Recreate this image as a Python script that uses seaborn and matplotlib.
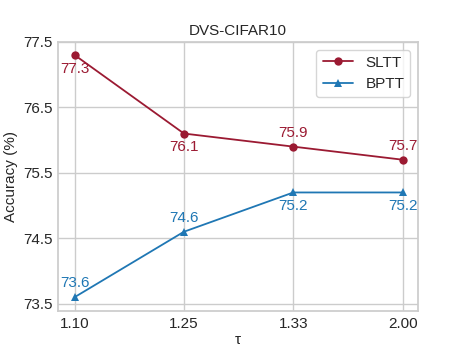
import seaborn as sns
import matplotlib.pyplot as plt
import pandas as pd

# data
taus = ["1.10", "1.25", "1.33", "2.00"]
sltt = [77.3, 76.1, 75.9, 75.7]
bptt = [73.6, 74.6, 75.2, 75.2]
yticks = [73.5, 74.5, 75.5, 76.5, 77.5]

red = "#9b1a32"
blue = "#1f77b4"

sns.set_theme(style="whitegrid")
plt.rcParams["font.family"] = ["Liberation Sans", "DejaVu Sans"]

df = pd.DataFrame({
    "tau": taus * 2,
    "acc": sltt + bptt,
    "method": ["SLTT"] * 4 + ["BPTT"] * 4,
})
df["x"] = list(range(len(taus))) * 2

fig = plt.figure(figsize=(4.65, 3.49), dpi=100)
ax = fig.add_axes([0.125, 0.109, 0.774, 0.771])

sns.lineplot(data=df, x="x", y="acc", hue="method", style="method",
             palette={"SLTT": red, "BPTT": blue},
             markers={"SLTT": "o", "BPTT": "^"}, dashes=False,
             markersize=6, markeredgewidth=0, linewidth=1.3, ax=ax)

# value labels
sltt_off = [-10, -10, 10, 10]
bptt_off = [10, 10, -10, -10]
for i in range(len(taus)):
    ax.annotate(f"{sltt[i]}", (i, sltt[i]), xytext=(0, sltt_off[i]),
                textcoords="offset points", ha="center", va="center",
                color=red, fontsize=11)
    ax.annotate(f"{bptt[i]}", (i, bptt[i]), xytext=(0, bptt_off[i]),
                textcoords="offset points", ha="center", va="center",
                color=blue, fontsize=11)

ax.set_xticks(range(len(taus)))
ax.set_xticklabels(taus)
ax.set_yticks(yticks)
ax.set_xlim(-0.15, 3.14)
ax.set_ylim(73.39, 77.5)
ax.tick_params(labelsize=11, length=0, pad=4)
ax.set_xlabel("τ", fontsize=11, labelpad=2)
ax.set_ylabel("Accuracy (%)", fontsize=11, labelpad=4)
ax.set_title("DVS-CIFAR10", fontsize=11, pad=5)
ax.legend(title=None, loc="upper right", fontsize=11)

fig.savefig("out.png", dpi=100)
